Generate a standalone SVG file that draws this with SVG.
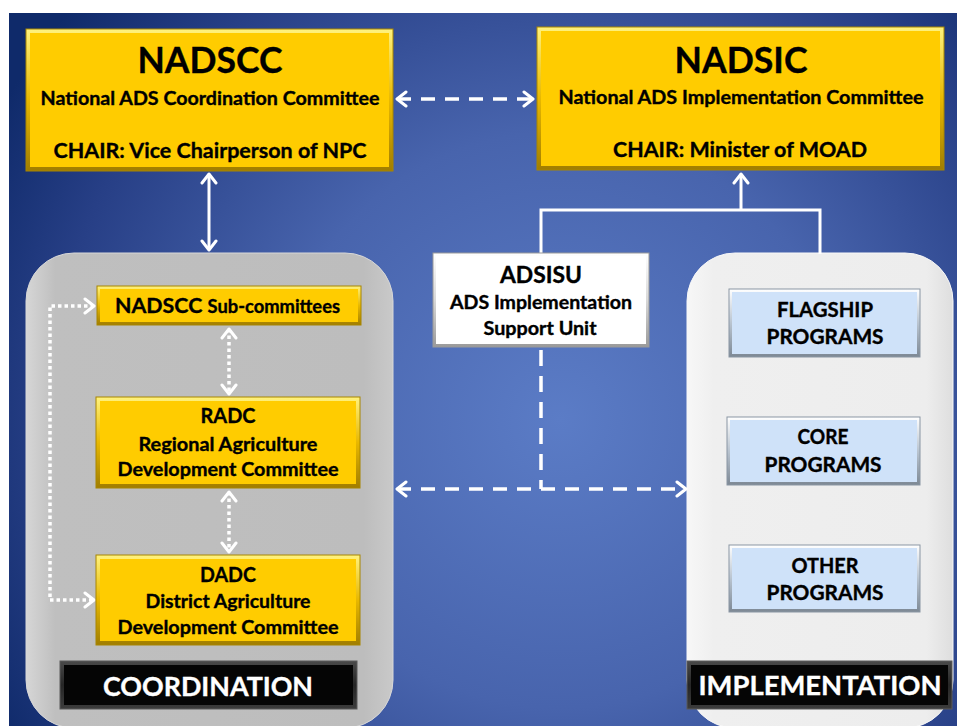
<svg xmlns="http://www.w3.org/2000/svg" width="957" height="726" viewBox="0 0 957 726">
<defs>
<radialGradient id="bg" cx="560" cy="420" r="640" gradientUnits="userSpaceOnUse">
<stop offset="0" stop-color="#5b7cc6"/>
<stop offset="0.45" stop-color="#4864ad"/>
<stop offset="0.8" stop-color="#273f86"/>
<stop offset="1" stop-color="#0f2a6a"/>
</radialGradient>
<linearGradient id="ybev" x1="0" y1="0" x2="0" y2="1">
<stop offset="0" stop-color="#fff27e"/>
<stop offset="0.5" stop-color="#e8b800"/>
<stop offset="1" stop-color="#a07d00"/>
</linearGradient>
<linearGradient id="bbev" x1="0" y1="0" x2="0" y2="1">
<stop offset="0" stop-color="#ffffff"/>
<stop offset="0.5" stop-color="#b9c4d0"/>
<stop offset="1" stop-color="#7d8894"/>
</linearGradient>
<linearGradient id="wbev" x1="0" y1="0" x2="0" y2="1">
<stop offset="0" stop-color="#ffffff"/>
<stop offset="0.5" stop-color="#d8d8d8"/>
<stop offset="1" stop-color="#9a9a9a"/>
</linearGradient>
<linearGradient id="kbev" x1="0" y1="0" x2="0" y2="1">
<stop offset="0" stop-color="#4a4a4a"/>
<stop offset="0.5" stop-color="#262626"/>
<stop offset="1" stop-color="#3c3c3c"/>
</linearGradient>
<linearGradient id="gpanel" x1="0" y1="0" x2="1" y2="0">
<stop offset="0" stop-color="#d6d6d6"/>
<stop offset="0.08" stop-color="#bfbfbf"/>
<stop offset="0.92" stop-color="#bdbdbd"/>
<stop offset="1" stop-color="#c9c9c9"/>
</linearGradient>
<linearGradient id="lpanel" x1="0" y1="0" x2="1" y2="0">
<stop offset="0" stop-color="#f7f7f7"/>
<stop offset="0.1" stop-color="#efefef"/>
<stop offset="0.9" stop-color="#ededed"/>
<stop offset="1" stop-color="#dedede"/>
</linearGradient>
<marker id="chev" viewBox="-12 -9 14 18" refX="0" refY="0" markerWidth="14" markerHeight="18" markerUnits="userSpaceOnUse" orient="auto-start-reverse">
<polyline points="-9,-7 0,0 -9,7" fill="none" stroke="#ffffff" stroke-width="3" stroke-linecap="round" stroke-linejoin="round"/>
</marker>
</defs>
<style>
text{font-family:Lato,"Open Sans","Liberation Sans",sans-serif;font-weight:bold;fill:#000;stroke:#000;stroke-width:0.35;text-anchor:middle}
text.wt{fill:#fff;stroke:#fff}
.ybox{fill:url(#ybev);stroke:#a88600;stroke-width:1}
.yin{fill:#ffcc00}
.bbox{fill:url(#bbev);stroke:#8a96a3;stroke-width:1}
.bin{fill:#cfe2f9}
.wbox{fill:url(#wbev);stroke:#9a9a9a;stroke-width:1}
.win{fill:#ffffff}
.kbox{fill:url(#kbev);stroke:#5a5a5a;stroke-width:1}
.kin{fill:#050505}
.solid{fill:none;stroke:#fff;stroke-width:3}
.dash{fill:none;stroke:#fff;stroke-width:3.5;stroke-dasharray:14 10}
.dot{fill:none;stroke:#fff;stroke-width:3.5;stroke-dasharray:3.5 3}
</style>
<rect x="0" y="0" width="957" height="726" fill="#ffffff"/>
<rect x="9" y="13" width="948" height="713" fill="url(#bg)"/>

<g id="coordination-panel">
<rect x="26" y="253" width="367" height="475" rx="48" fill="url(#gpanel)" stroke="#d8d8d8" stroke-width="1"/>
</g>
<g id="implementation-panel">
<rect x="687" y="253" width="266" height="475" rx="48" fill="url(#lpanel)" stroke="#f8f8f8" stroke-width="1"/>
</g>

<g id="connectors">
<line class="dash" x1="397" y1="99" x2="533" y2="99" marker-start="url(#chev)" marker-end="url(#chev)"/>
<line class="solid" x1="209" y1="174" x2="209" y2="250" marker-start="url(#chev)" marker-end="url(#chev)"/>
<path class="solid" d="M541 254 V210 H820 V254"/>
<line class="solid" x1="741" y1="210" x2="741" y2="174" marker-end="url(#chev)"/>
<line class="dash" x1="541" y1="350" x2="541" y2="489" style="stroke-dasharray:16 10"/>
<line class="dash" x1="397" y1="489" x2="686" y2="489" marker-start="url(#chev)" marker-end="url(#chev)"/>
<line class="dot" x1="229" y1="329" x2="229" y2="394" marker-start="url(#chev)" marker-end="url(#chev)"/>
<line class="dot" x1="229" y1="492" x2="229" y2="552" marker-start="url(#chev)" marker-end="url(#chev)"/>
<path class="dot" d="M94 306 H50 V600 H94" marker-start="url(#chev)" marker-end="url(#chev)"/>
</g>

<g id="nadscc">
<rect class="ybox" x="26" y="29" width="367" height="142"/>
<rect class="yin" x="30" y="33" width="359" height="134"/>
<text x="210" y="73" font-size="36" textLength="145" lengthAdjust="spacingAndGlyphs">NADSCC</text>
<text x="210" y="105" font-size="18" textLength="339" lengthAdjust="spacingAndGlyphs">National ADS Coordination Committee</text>
<text x="210" y="158" font-size="21" textLength="313" lengthAdjust="spacingAndGlyphs">CHAIR: Vice Chairperson of NPC</text>
</g>

<g id="nadsic">
<rect class="ybox" x="537" y="27" width="407" height="143"/>
<rect class="yin" x="541" y="31" width="399" height="135"/>
<text x="741" y="73" font-size="36" textLength="133" lengthAdjust="spacingAndGlyphs">NADSIC</text>
<text x="741" y="104" font-size="18" textLength="365" lengthAdjust="spacingAndGlyphs">National ADS Implementation Committee</text>
<text x="740" y="157" font-size="21" textLength="254" lengthAdjust="spacingAndGlyphs">CHAIR: Minister of MOAD</text>
</g>

<g id="adsisu">
<rect class="wbox" x="433" y="253" width="216" height="94"/>
<rect class="win" x="436" y="256" width="210" height="88"/>
<text x="541" y="283" font-size="22" textLength="82" lengthAdjust="spacingAndGlyphs">ADSISU</text>
<text x="541" y="309" font-size="18" textLength="182" lengthAdjust="spacingAndGlyphs">ADS Implementation</text>
<text x="540" y="335" font-size="18" textLength="113" lengthAdjust="spacingAndGlyphs">Support Unit</text>
</g>

<g id="nadscc-sub">
<rect class="ybox" x="97" y="286" width="264" height="39"/>
<rect class="yin" x="100" y="289" width="258" height="33"/>
<text x="115" y="313" style="text-anchor:start" textLength="225" lengthAdjust="spacingAndGlyphs"><tspan font-size="21">NADSCC </tspan><tspan font-size="18">Sub-committees</tspan></text>
</g>

<g id="radc">
<rect class="ybox" x="96" y="397" width="264" height="91"/>
<rect class="yin" x="100" y="401" width="256" height="83"/>
<text x="228" y="423" font-size="21" textLength="55" lengthAdjust="spacingAndGlyphs">RADC</text>
<text x="228" y="451" font-size="18" textLength="179" lengthAdjust="spacingAndGlyphs">Regional Agriculture</text>
<text x="228" y="476" font-size="18" textLength="221" lengthAdjust="spacingAndGlyphs">Development Committee</text>
</g>

<g id="dadc">
<rect class="ybox" x="96" y="555" width="264" height="90"/>
<rect class="yin" x="100" y="559" width="256" height="82"/>
<text x="228" y="582" font-size="21" textLength="56" lengthAdjust="spacingAndGlyphs">DADC</text>
<text x="228" y="608" font-size="18" textLength="165" lengthAdjust="spacingAndGlyphs">District Agriculture</text>
<text x="228" y="634" font-size="18" textLength="221" lengthAdjust="spacingAndGlyphs">Development Committee</text>
</g>

<g id="coordination-label">
<rect class="kbox" x="60" y="661" width="297" height="48"/>
<rect class="kin" x="64" y="665" width="289" height="40"/>
<text class="wt" x="208" y="696" font-size="27" textLength="210" lengthAdjust="spacingAndGlyphs">COORDINATION</text>
</g>

<g id="flagship">
<rect class="bbox" x="729" y="289" width="191" height="68"/>
<rect class="bin" x="732" y="292" width="185" height="62"/>
<text x="825" y="317" font-size="20" textLength="96" lengthAdjust="spacingAndGlyphs">FLAGSHIP</text>
<text x="825" y="344" font-size="20" textLength="117" lengthAdjust="spacingAndGlyphs">PROGRAMS</text>
</g>

<g id="core">
<rect class="bbox" x="727" y="417" width="193" height="68"/>
<rect class="bin" x="730" y="420" width="187" height="62"/>
<text x="823" y="444" font-size="20" textLength="51" lengthAdjust="spacingAndGlyphs">CORE</text>
<text x="823" y="472" font-size="20" textLength="117" lengthAdjust="spacingAndGlyphs">PROGRAMS</text>
</g>

<g id="other">
<rect class="bbox" x="729" y="545" width="191" height="67"/>
<rect class="bin" x="732" y="548" width="185" height="61"/>
<text x="825" y="573" font-size="20" textLength="67" lengthAdjust="spacingAndGlyphs">OTHER</text>
<text x="825" y="600" font-size="20" textLength="117" lengthAdjust="spacingAndGlyphs">PROGRAMS</text>
</g>

<g id="implementation-label">
<rect class="kbox" x="687" y="661" width="265" height="48"/>
<rect class="kin" x="691" y="665" width="257" height="40"/>
<text class="wt" x="820" y="695" font-size="27" textLength="243" lengthAdjust="spacingAndGlyphs">IMPLEMENTATION</text>
</g>
</svg>
